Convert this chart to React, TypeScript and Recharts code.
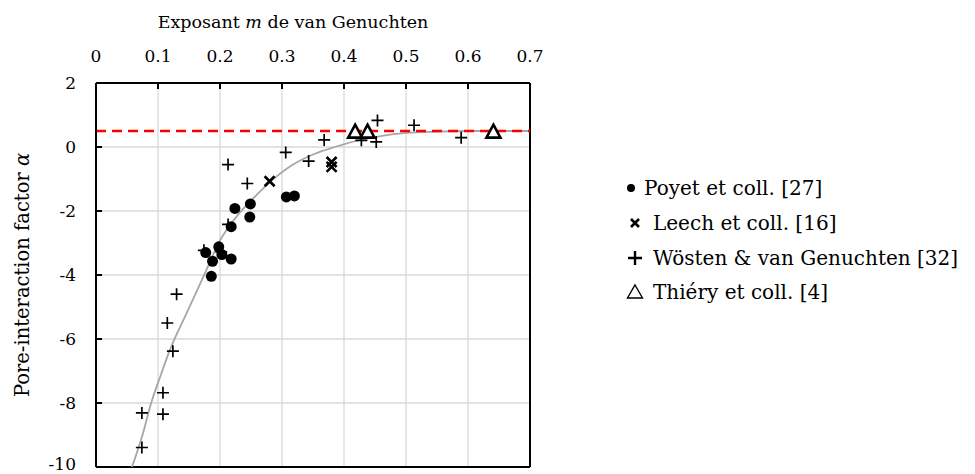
import { ComposedChart, Line, Scatter, XAxis, YAxis, CartesianGrid, ReferenceLine } from 'recharts';

const FONT = '"DejaVu Serif", serif';

const xTicks = [0, 0.1, 0.2, 0.3, 0.4, 0.5, 0.6, 0.7];
const yTicks = [-10, -8, -6, -4, -2, 0, 2];

// fitted curve
const curveM = [0.058, 0.075, 0.089, 0.105, 0.119, 0.146, 0.173, 0.2, 0.224, 0.256, 0.281, 0.316, 0.353, 0.385, 0.423, 0.45, 0.5, 0.55, 0.6, 0.7];
const curveA = [-10, -9.0, -8, -7.1, -6.35, -5.2, -4.06, -2.92, -2.24, -1.56, -1.09, -0.57, -0.21, 0, 0.21, 0.31, 0.44, 0.48, 0.5, 0.5];

const poyetM = [0.224, 0.249, 0.248, 0.218, 0.307, 0.320, 0.198, 0.177, 0.203, 0.218, 0.188, 0.186];
const poyetA = [-1.92, -1.78, -2.19, -2.49, -1.56, -1.53, -3.12, -3.30, -3.36, -3.50, -3.57, -4.04];

const leechM = [0.280, 0.380, 0.380];
const leechA = [-1.07, -0.47, -0.62];

const wostenM = [0.213, 0.244, 0.306, 0.343, 0.368, 0.428, 0.454, 0.452, 0.513, 0.589, 0.213, 0.174, 0.202, 0.130, 0.115, 0.124, 0.108, 0.074, 0.108, 0.074];
const wostenA = [-0.55, -1.14, -0.17, -0.44, 0.22, 0.21, 0.83, 0.16, 0.68, 0.29, -2.42, -3.23, -3.28, -4.60, -5.50, -6.38, -7.68, -8.31, -8.35, -9.39];

const thieryM = [0.418, 0.438, 0.641];
const thieryA = [0.48, 0.48, 0.48];

const limitM = [0, 0.7];
const limitA = [0.5, 0.5];

const seriesNames = ['Poyet et coll. [27]', 'Leech et coll. [16]', 'Wösten & van Genuchten [32]', 'Thiéry et coll. [4]'];

const pts = (m: number[], a: number[]) => m.map((v, i) => ({ m: v, a: a[i] }));

function Dot(p: any) {
  if (p.cx == null) return null;
  return <circle cx={p.cx} cy={p.cy} r={5.5} fill="#000" />;
}
function Cross(p: any) {
  if (p.cx == null) return null;
  const { cx, cy } = p;
  return <path d={`M${cx - 5} ${cy - 5}L${cx + 5} ${cy + 5}M${cx + 5} ${cy - 5}L${cx - 5} ${cy + 5}`} stroke="#000" strokeWidth={2.6} />;
}
function Plus(p: any) {
  if (p.cx == null) return null;
  const { cx, cy } = p;
  return <path d={`M${cx - 6} ${cy}L${cx + 6} ${cy}M${cx} ${cy - 6}L${cx} ${cy + 6}`} stroke="#000" strokeWidth={1.7} />;
}
function Tri(p: any) {
  if (p.cx == null) return null;
  const { cx, cy } = p;
  return <path d={`M${cx} ${cy - 7}L${cx + 7} ${cy + 6}L${cx - 7} ${cy + 6}Z`} stroke="#000" strokeWidth={2.6} fill="#fff" strokeLinejoin="miter" />;
}

// y tick label; the lowest one sits on the page edge, so lift it a little
function YTick(p: any) {
  const lift = p.payload.value === -10 ? -3 : 0;
  return (
    <text x={p.x} y={p.y + lift} dy="0.36em" textAnchor="end" fontFamily={FONT} fontSize={17} fill="#000">
      {p.payload.value}
    </text>
  );
}

const legendIcons = [
  <circle cx={10} cy={10} r={4} fill="#000" />,
  <path d="M6 6L14 14M14 6L6 14" stroke="#000" strokeWidth={2.6} />,
  <path d="M3 10L17 10M10 3L10 17" stroke="#000" strokeWidth={2.4} />,
  <path d="M10 3L17.5 16L2.5 16Z" stroke="#000" strokeWidth={1.4} fill="none" />,
];

function LegendBox() {
  return (
    <div style={{ position: 'absolute', left: 621, top: 171, fontFamily: FONT, fontSize: 20, color: '#000' }}>
      {seriesNames.map((n, i) => (
        <div key={n} style={{ display: 'flex', alignItems: 'center', height: 34.7, whiteSpace: 'nowrap' }}>
          <svg width={20} height={20} style={{ marginRight: i === 0 ? 3 : 8, marginLeft: i === 0 ? 0 : 4 }}>{legendIcons[i]}</svg>
          <span>{n}</span>
        </div>
      ))}
    </div>
  );
}

function XTitle() {
  return (
    <text x={293} y={28} textAnchor="middle" fontFamily={FONT} fontSize={17.5} fill="#000">
      Exposant <tspan fontStyle="italic">m</tspan> de van Genuchten
    </text>
  );
}
function YTitle() {
  return (
    <text x={0} y={0} transform="translate(29 275) rotate(-90)" textAnchor="middle" fontFamily={FONT} fontSize={19.5} fill="#000">
      Pore-interaction factor <tspan fontStyle="italic">α</tspan>
    </text>
  );
}

export default function App() {
  const tick = { fontFamily: FONT, fontSize: 17, fill: '#000' };
  return (
    <div style={{ position: 'absolute', left: 0, top: 0, width: 975, height: 474, background: '#fff', overflow: 'hidden' }}>
      <ComposedChart width={975} height={474} margin={{ top: 0, right: 445, bottom: 7, left: 0 }}>
        <CartesianGrid stroke="#d9d9d9" strokeWidth={1.3} horizontalValues={yTicks} verticalValues={xTicks} />
        <XAxis
          dataKey="m" type="number" orientation="top" domain={[0, 0.7]} ticks={xTicks} interval={0}
          height={83} tickSize={-6} tickMargin={27} tick={tick}
          axisLine={{ stroke: '#000', strokeWidth: 2 }} tickLine={{ stroke: '#000', strokeWidth: 2 }}
          label={<XTitle />} allowDataOverflow
        />
        <YAxis
          dataKey="a" type="number" domain={[-10, 2]} ticks={yTicks} interval={0}
          width={96} tickSize={-6} tickMargin={26} tick={<YTick />}
          axisLine={{ stroke: '#000', strokeWidth: 2 }} tickLine={{ stroke: '#000', strokeWidth: 2 }}
          label={<YTitle />} allowDataOverflow
        />
        <ReferenceLine x={0.7} stroke="#000" strokeWidth={2} />
        <ReferenceLine y={-10} stroke="#000" strokeWidth={2} />
        <Line data={pts(curveM, curveA)} dataKey="a" type="monotone" stroke="#a6a6a6" strokeWidth={1.8} dot={false} isAnimationActive={false} />
        <Line data={pts(limitM, limitA)} dataKey="a" stroke="#ff0000" strokeWidth={2.6} strokeDasharray="10 6" dot={false} isAnimationActive={false} />
        <Scatter name={seriesNames[0]} data={pts(poyetM, poyetA)} dataKey="a" shape={<Dot />} isAnimationActive={false} />
        <Scatter name={seriesNames[1]} data={pts(leechM, leechA)} dataKey="a" shape={<Cross />} isAnimationActive={false} />
        <Scatter name={seriesNames[2]} data={pts(wostenM, wostenA)} dataKey="a" shape={<Plus />} isAnimationActive={false} />
        <Scatter name={seriesNames[3]} data={pts(thieryM, thieryA)} dataKey="a" shape={<Tri />} isAnimationActive={false} />
      </ComposedChart>
      <LegendBox />
    </div>
  );
}
